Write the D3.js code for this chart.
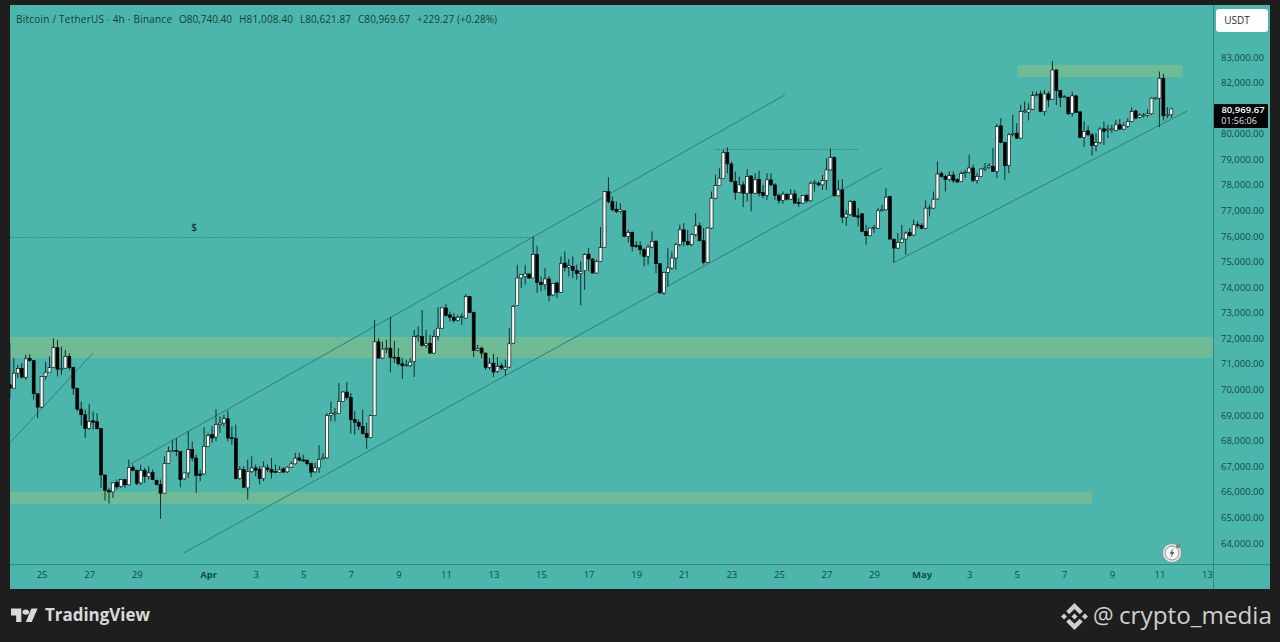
<!DOCTYPE html>
<html lang="en">
  <head>
    <meta charset="utf-8">
    <title>BTCUSDT 4h</title>
    <script src="https://d3js.org/d3.v7.min.js"></script>
    <style>
      html, body { margin: 0; padding: 0; background: #1e1e1e; overflow: hidden; }
      text { font-family: "Open Sans", sans-serif; }
    </style>
  </head>

  <body>
    <script>

      // candles, 4h bars, first one is Mar 23 16:00

      const opens = [
        70184,70054,70639,70834,70483,71224,71133,69833,69313,70509,
        70678,70860,71640,70795,70834,71289,70873,70054,69235,69014,
        68481,68780,68741,68481,66661,66063,65998,66375,66219,66479,
        66271,66960,66843,66349,66843,66609,66765,66453,66284,65946,
        67116,67571,67623,67571,66505,66739,67649,67324,66700,66700,
        67779,68234,68143,68624,68689,68858,68130,68078,66518,66869,
        66154,66804,66934,66873,66522,66938,66873,66800,66769,66899,
        66782,66964,67094,67328,67250,67237,67107,66782,66938,67289,
        67328,68979,69057,69057,69538,69902,69694,68823,68719,68563,
        68277,68121,68979,71865,71228,71579,71618,71267,71254,71007,
        70929,70929,71098,72060,72073,71722,71813,71423,72073,72398,
        73191,72918,72827,72697,72814,72788,73633,73009,71527,71618,
        71423,70864,71033,70708,70929,70773,70877,71813,73281,74360,
        74425,74516,74360,75283,74191,74100,74321,73697,74165,73801,
        74945,74776,74815,74659,74529,74646,75296,75101,74555,75010,
        75556,77740,77350,77051,76960,76986,75985,76141,75634,75621,
        75465,75205,75569,75790,74919,73775,74581,74750,75140,75660,
        76245,75790,75660,76050,76401,75816,74971,76310,77480,77974,
        78248,79262,78820,78131,77702,78001,77676,78352,77676,78222,
        77702,77585,78196,78001,77585,77390,77637,77442,77650,77312,
        77286,77585,77377,78053,78066,78001,78170,78586,79080,77572,
        77806,76740,76831,77351,76792,76870,76181,76012,76298,76298,
        76987,77026,77546,75882,75531,75752,75882,76142,76038,76441,
        76415,76298,77078,77091,77450,78438,78334,78204,78386,78204,
        78126,78438,78477,78659,78178,78334,78620,78698,78724,78529,
        80310,79660,78750,79959,80024,79829,80856,80843,80960,81493,
        81558,80869,81558,81350,82494,81688,81415,81428,80804,81480,
        80856,79855,80115,79959,79543,79660,80193,80141,80154,80128,
        80349,80180,80284,80479,80895,80635,80700,80713,80778,81376,
        81389,82169,80700,80740.40
      ];

      const highs = [
        71809,71224,70964,71029,71354,71380,71133,69833,70509,71094,
        71289,72004,71939,71679,71549,71419,70873,70054,69534,69209,
        69443,69144,69079,68481,66661,66154,66375,66479,66505,66505,
        67259,67064,66869,67064,66934,66999,66869,66479,66479,67389,
        67779,68039,68104,67571,66739,68364,67974,67454,66869,68533,
        68299,68559,69235,68949,69014,69183,68559,68624,66999,66999,
        67259,67389,67064,67003,67198,67068,67328,67068,67003,66964,
        67003,67198,67523,67523,67458,67263,67133,67133,67822,67523,
        69083,69538,69278,70253,69928,70292,69863,69148,68823,69213,
        68693,69018,72723,72008,71878,71943,72827,71904,71618,71228,
        71163,71228,72333,72463,73113,72333,72138,72333,73217,73217,
        73347,73048,72983,72918,72983,73724,73659,73048,71748,71683,
        71449,71228,71397,71267,71033,71163,72398,73308,74880,74490,
        74880,74555,75985,75621,74425,74750,74425,74165,74230,75205,
        75400,75101,75205,74880,75010,75335,75530,75140,75075,76349,
        77740,78299,77545,77350,77285,76999,76245,76180,75790,75790,
        75530,75660,76180,75855,74919,74620,75530,75400,75725,76440,
        76505,76245,76115,76895,76531,76310,76349,77740,78390,78650,
        79366,79470,78911,78521,78326,78131,78612,78352,78456,78560,
        78001,78456,78456,78066,77676,77741,77676,77832,77806,77481,
        77611,77650,78131,78196,78131,78391,79041,79431,79106,78196,
        78222,77026,77416,77416,77091,76896,76441,76337,76441,77091,
        77221,77871,77572,75882,76116,76441,76181,76311,76636,76571,
        76506,77390,77221,77741,78919,78529,78399,78529,78529,78269,
        78529,78594,79179,78789,78464,78659,78854,78854,79439,80388,
        80609,79699,80024,80739,80414,81129,81259,81194,81649,81649,
        81688,81714,81649,82845,82520,81714,81519,81454,81649,81519,
        80869,80479,80310,80024,80024,80258,80479,80349,80349,80544,
        80570,80440,80609,81038,80934,80804,80804,80960,81415,81415,
        82429,82338,81038,81008.40
      ];

      const lows = [
        69664,70054,70444,70444,70379,71094,69599,68884,69274,70379,
        70678,70860,70509,70574,70834,70769,69794,69144,68585,68104,
        68429,68429,68429,66154,65660,65543,65764,66089,66154,66154,
        66258,66804,66258,66258,66349,66479,66453,66258,64945,65946,
        67116,67545,67389,66180,66453,66544,67194,65959,66414,66674,
        67779,67909,67974,68299,68559,67974,67844,66479,66479,66154,
        65699,66739,66609,66288,66418,66769,66522,66743,66769,66769,
        66743,66938,67068,67198,67159,67029,66574,66743,66743,67263,
        67302,68758,68758,69044,69512,69603,68277,68238,68407,68238,
        67679,68095,68979,71215,71202,71423,70669,71033,70929,70409,
        70877,70877,70487,71878,71683,71618,71397,71397,71917,72385,
        72853,72658,72619,72658,72528,72762,72983,71267,71488,71228,
        70773,70773,70487,70643,70773,70539,70838,71787,73281,73970,
        74100,74321,74360,73775,73840,73905,73450,73645,73580,73775,
        74620,74425,74360,74295,73294,73905,74620,74529,74529,74984,
        75556,77285,76960,76895,76895,75959,75751,75400,75530,75270,
        74815,74880,75530,74555,73749,73710,74035,74685,74685,75595,
        75595,75621,75595,75985,75790,74880,74945,76271,77441,77961,
        78235,78456,78105,77416,77676,77130,77351,76961,77650,77546,
        77481,77416,77936,77416,77260,77260,77390,77416,77260,77130,
        77260,77286,77351,77741,77936,77806,77806,78560,77546,77546,
        76506,76402,76792,76740,76376,76142,75661,75986,76116,76272,
        76961,77000,75856,74946,75492,75726,75271,75986,76012,76311,
        76272,76272,76766,77065,77424,78282,77749,78139,78074,78074,
        78100,78269,78438,78100,78048,78308,78529,78620,78503,78269,
        79634,78204,78464,79894,79790,79803,80804,80518,80934,81454,
        80843,80713,81038,81324,81129,81038,81389,80739,80674,80804,
        79829,79478,79894,79140,79309,79608,79569,79829,80024,80089,
        80154,80154,80219,80453,80570,80609,80635,80648,80739,81350,
        80258,80518,80609,80621.87
      ];

      const closes = [
        70054,70639,70821,70483,71198,71133,69833,69313,70509,70678,
        70860,71640,70795,70834,71289,70860,70054,69235,69014,68481,
        68754,68715,68481,66661,66063,65998,66349,66193,66479,66271,
        66947,66843,66323,66843,66609,66739,66479,66284,65946,67116,
        67571,67623,67584,66479,66739,67649,67324,66635,66635,67779,
        68195,68104,68624,68689,68858,68104,68078,66518,66869,66180,
        66804,66934,66843,66522,66977,66873,66769,66769,66860,66769,
        66964,67094,67315,67237,67211,67107,66769,66938,67263,67328,
        68979,69057,69083,69538,69902,69694,68823,68719,68563,68277,
        68121,68979,71865,71228,71579,71618,71254,71228,71007,70929,
        70968,71072,72073,72099,71722,71787,71423,72073,72398,73191,
        72892,72827,72697,72827,72853,73633,73009,71527,71592,71423,
        70864,71033,70682,70903,70838,70877,71787,73243,74360,74490,
        74516,74360,75283,74191,74100,74321,73684,74139,73801,74919,
        74776,74841,74659,74529,74620,75283,75101,74555,75010,75556,
        77740,77350,77025,76960,77025,75985,76141,75595,75595,75465,
        75205,75569,75790,74919,73775,74581,74750,75140,75660,76245,
        75790,75660,76050,76401,75816,74971,76310,77480,77974,78260,
        79262,78820,78131,77702,78001,77676,78326,77676,78196,77676,
        77585,78196,78001,77585,77390,77637,77442,77637,77286,77273,
        77585,77377,78066,78092,78001,78170,78586,79080,77572,77806,
        76740,76857,77351,76766,76740,76181,76012,76311,76337,76987,
        77026,77520,75882,75531,75752,75882,76116,76012,76441,76402,
        76298,77091,77104,77442,78425,78334,78204,78360,78165,78113,
        78438,78477,78659,78178,78334,78620,78659,78750,78529,80284,
        79660,78750,79959,79998,79829,80869,80895,80960,81493,81532,
        80869,81558,81324,82494,81688,81415,81454,80778,81480,80830,
        79855,80089,79959,79543,79660,80180,80089,80180,80193,80349,
        80180,80310,80479,80869,80609,80726,80739,80778,81389,81402,
        82169,80700,80740,80969.67
      ];

      // axis ticks

      const priceTicks = [64000,65000,66000,67000,68000,69000,70000,71000,72000,73000,
                          74000,75000,76000,77000,78000,79000,80000,81000,82000,83000];
      const timeTickBars = [8,20,32,50,62,74,86,98,110,122,134,146,158,170,182,194,206,218,230,242,254,266,278,290,302];
      const timeTickLabels = ["25","27","29","Apr","3","5","7","9","11","13","15","17","19","21","23","25","27","29","May","3","5","7","9","11","13"];

      // drawings: zones and lines, in bar number and price

      const zoneFrom = [254.3, -2, -2];
      const zoneTo = [295.8, 304, 273];
      const zoneTop = [82687, 72055, 65996];
      const zoneBottom = [82218, 71234, 65527];

      const lineBarA = [0, 30.5, 43.9, 223.3];
      const lineBarB = [21, 195.5, 220, 297];
      const linePriceA = [67911, 67090, 63611, 74987];
      const linePriceB = [71429, 81515, 78661, 80889];

      const dottedFrom = [0, 178];
      const dottedTo = [132, 214];
      const dottedPrice = [75964, 79404];

      const w = 1280;
      const h = 642;
      const pane = {left: 10, right: 1270, top: 5, bottom: 589, axisX: 1213, axisY: 564.5};
      const inkDark = "#0f4b46";
      const teal = "#4db6ac";
      const zoneColor = "#6fbb96";
      const lineColor = "#2f7f78";

      const xScale = d3.scaleLinear()
                       .domain([8, 302])
                       .range([41.6, 1207]);

      const yScale = d3.scaleLinear()
                       .domain([64000, 83000])
                       .range([543, 57]);

      const svg = d3.select("body")
                    .append("svg")
                    .attr("width", w)
                    .attr("height", h)
                    .style("display", "block");

      // background

      svg.append("rect")
         .attr("width", w)
         .attr("height", h)
         .attr("fill", "#1e1e1e");

      svg.append("rect")
         .attr("x", pane.left)
         .attr("y", pane.top)
         .attr("width", pane.right - pane.left)
         .attr("height", pane.bottom - pane.top)
         .attr("fill", teal);

      svg.append("clipPath")
         .attr("id", "plotClip")
         .append("rect")
         .attr("x", pane.left)
         .attr("y", pane.top)
         .attr("width", pane.axisX - pane.left)
         .attr("height", pane.axisY - pane.top);

      const plot = svg.append("g")
                      .attr("clip-path", "url(#plotClip)");

      // zones

      plot.selectAll("rect.zone")
          .data(zoneTop)
          .enter()
          .append("rect")
          .attr("class", "zone")
          .attr("x", (d, i) => xScale(zoneFrom[i]))
          .attr("y", d => yScale(d))
          .attr("width", (d, i) => xScale(zoneTo[i]) - xScale(zoneFrom[i]))
          .attr("height", (d, i) => yScale(zoneBottom[i]) - yScale(d))
          .attr("fill", zoneColor);

      // trend lines

      plot.selectAll("line.trend")
          .data(lineBarA)
          .enter()
          .append("line")
          .attr("class", "trend")
          .attr("x1", d => xScale(d))
          .attr("y1", (d, i) => yScale(linePriceA[i]))
          .attr("x2", (d, i) => xScale(lineBarB[i]))
          .attr("y2", (d, i) => yScale(linePriceB[i]))
          .attr("stroke", lineColor)
          .attr("stroke-width", 1);

      plot.selectAll("line.dotted")
          .data(dottedPrice)
          .enter()
          .append("line")
          .attr("class", "dotted")
          .attr("x1", (d, i) => xScale(dottedFrom[i]))
          .attr("x2", (d, i) => xScale(dottedTo[i]))
          .attr("y1", d => Math.round(yScale(d)) + 0.5)
          .attr("y2", d => Math.round(yScale(d)) + 0.5)
          .attr("stroke", lineColor)
          .attr("stroke-width", 1)
          .attr("stroke-dasharray", "1.5 1.5");

      plot.append("text")
          .attr("x", xScale(46.5))
          .attr("y", yScale(76316))
          .attr("text-anchor", "middle")
          .attr("dominant-baseline", "middle")
          .attr("font-size", 10)
          .attr("font-weight", 600)
          .attr("fill", "#123f3b")
          .text("$");

      // candles

      plot.selectAll("line.wick")
          .data(opens)
          .enter()
          .append("line")
          .attr("class", "wick")
          .attr("x1", (d, i) => xScale(i))
          .attr("x2", (d, i) => xScale(i))
          .attr("y1", (d, i) => yScale(highs[i]))
          .attr("y2", (d, i) => yScale(lows[i]))
          .attr("stroke", "#0c2f2c")
          .attr("stroke-width", 1);

      plot.selectAll("rect.body")
          .data(opens)
          .enter()
          .append("rect")
          .attr("class", "body")
          .attr("x", (d, i) => xScale(i) - 1.5)
          .attr("y", (d, i) => yScale(Math.max(d, closes[i])))
          .attr("width", 3)
          .attr("height", (d, i) => Math.max(1, Math.abs(yScale(d) - yScale(closes[i]))))
          .attr("fill", (d, i) => closes[i] >= d ? "#ffffff" : "#000000")
          .attr("stroke", "#000000")
          .attr("stroke-width", 0.6);

      // axes

      const xAxis = d3.axisBottom(xScale)
                      .tickValues(timeTickBars)
                      .tickSize(0)
                      .tickPadding(7)
                      .tickFormat((d, i) => timeTickLabels[i]);

      const yAxis = d3.axisRight(yScale)
                      .tickValues(priceTicks)
                      .tickSize(0)
                      .tickPadding(8)
                      .tickFormat(d3.format(",.2f"));

      const xAxisG = svg.append("g")
                        .attr("transform", `translate(0, ${pane.axisY})`)
                        .call(xAxis);

      const yAxisG = svg.append("g")
                        .attr("transform", `translate(${pane.axisX}, 0)`)
                        .call(yAxis);

      xAxisG.select(".domain").remove();
      yAxisG.select(".domain").remove();

      xAxisG.selectAll("text")
            .attr("font-size", 9.5)
            .attr("font-family", "Open Sans")
            .attr("fill", inkDark)
            .attr("font-weight", d => (d === 50 || d === 230) ? 700 : 400);

      yAxisG.selectAll("text")
            .attr("font-size", 9.5)
            .attr("font-family", "Open Sans")
            .attr("fill", inkDark);

      svg.append("line")
         .attr("x1", pane.axisX + 0.5)
         .attr("x2", pane.axisX + 0.5)
         .attr("y1", pane.top)
         .attr("y2", pane.bottom)
         .attr("stroke", "#2f8a80");

      svg.append("line")
         .attr("x1", pane.left)
         .attr("x2", pane.right)
         .attr("y1", pane.axisY)
         .attr("y2", pane.axisY)
         .attr("stroke", "#2f8a80");

      // header legend

      const legendX = [16, 179, 239, 300, 358, 417];
      const legendWidth = [156, 53, 54, 51, 52, 80];
      const legendText = ["Bitcoin / TetherUS · 4h · Binance", "O80,740.40", "H81,008.40", "L80,621.87", "C80,969.67", "+229.27 (+0.28%)"];

      svg.selectAll("text.legend")
         .data(legendText)
         .enter()
         .append("text")
         .attr("class", "legend")
         .attr("x", (d, i) => legendX[i])
         .attr("y", 23)
         .attr("font-size", 10)
         .attr("fill", "#123f3b")
         .attr("textLength", (d, i) => legendWidth[i])
         .text(d => d);

      // USDT button

      svg.append("rect")
         .attr("x", 1216)
         .attr("y", 9)
         .attr("width", 52)
         .attr("height", 23)
         .attr("rx", 3)
         .attr("fill", "#ffffff");

      svg.append("text")
         .attr("x", 1237)
         .attr("y", 24)
         .attr("text-anchor", "middle")
         .attr("font-size", 10)
         .attr("fill", "#2a2e39")
         .text("USDT");

      // last price tag

      svg.append("rect")
         .attr("x", 1214)
         .attr("y", 104)
         .attr("width", 54)
         .attr("height", 24)
         .attr("rx", 1)
         .attr("fill", "#000000");

      svg.append("text")
         .attr("x", 1243)
         .attr("y", 113)
         .attr("text-anchor", "middle")
         .attr("font-size", 9.5)
         .attr("font-weight", 600)
         .attr("fill", "#ffffff")
         .text("80,969.67");

      svg.append("text")
         .attr("x", 1239)
         .attr("y", 124)
         .attr("text-anchor", "middle")
         .attr("font-size", 9)
         .attr("fill", "#e6e6e6")
         .text("01:56:06");

      // lightning badge

      const badge = svg.append("g")
                       .attr("transform", "translate(1172, 553)");

      badge.append("circle")
           .attr("r", 9.5)
           .attr("fill", "#e9e9e9")
           .attr("stroke", "#8a9a98")
           .attr("stroke-width", 1);

      badge.append("circle")
           .attr("r", 7)
           .attr("fill", "#f6f6f6")
           .attr("stroke", "#6d7a78")
           .attr("stroke-width", 0.8);

      badge.append("path")
           .attr("d", "M1.5 -5 L-2.5 0.8 L-0.3 0.8 L-1.5 5 L2.5 -1 L0.2 -1 Z")
           .attr("fill", "#555f5e");

      badge.append("circle")
           .attr("cx", 6)
           .attr("cy", -7)
           .attr("r", 2)
           .attr("fill", "#777f7e");

      // footer: logo and watermark

      const tvLogo = svg.append("g")
                        .attr("transform", "translate(11, 608) scale(0.74, 0.58)")
                        .attr("fill", "#d9d9d9");

      tvLogo.append("path").attr("d", "M14 24H7V13H0V1h14v23zM28 24h-8L27.5 1H36L28 24z");
      tvLogo.append("circle").attr("cx", 20).attr("cy", 7).attr("r", 4.5);

      svg.append("text")
         .attr("x", 45)
         .attr("y", 621)
         .attr("font-size", 18)
         .attr("font-weight", 700)
         .attr("fill", "#d9d9d9")
         .attr("textLength", 105)
         .attr("lengthAdjust", "spacingAndGlyphs")
         .text("TradingView");

      const bnb = svg.append("g")
                     .attr("transform", "translate(1061, 603) scale(0.213)")
                     .attr("fill", "#cfcfcf");

      bnb.append("path").attr("d", "M38.73 53.2l24.59-24.58 24.6 24.6 14.3-14.31L63.32 0 24.43 38.88z");
      bnb.append("path").attr("d", "M0 63.31l14.3-14.31 14.31 14.31-14.31 14.3z");
      bnb.append("path").attr("d", "M38.73 73.41L63.32 98l24.6-24.6 14.31 14.29-38.9 38.91-38.9-38.88z");
      bnb.append("path").attr("d", "M98 63.31l14.3-14.31 14.31 14.3-14.31 14.32z");
      bnb.append("path").attr("d", "M77.83 63.3L63.32 48.78 48.81 63.28l14.51 14.5z");

      svg.append("text")
         .attr("x", 1093)
         .attr("y", 624)
         .attr("font-size", 23)
         .attr("fill", "#cfcfcf")
         .text("@");

      svg.append("text")
         .attr("x", 1119)
         .attr("y", 624)
         .attr("font-size", 23)
         .attr("fill", "#cfcfcf")
         .attr("textLength", 153)
         .attr("lengthAdjust", "spacingAndGlyphs")
         .text("crypto_media");

    </script>
  </body>
</html>
